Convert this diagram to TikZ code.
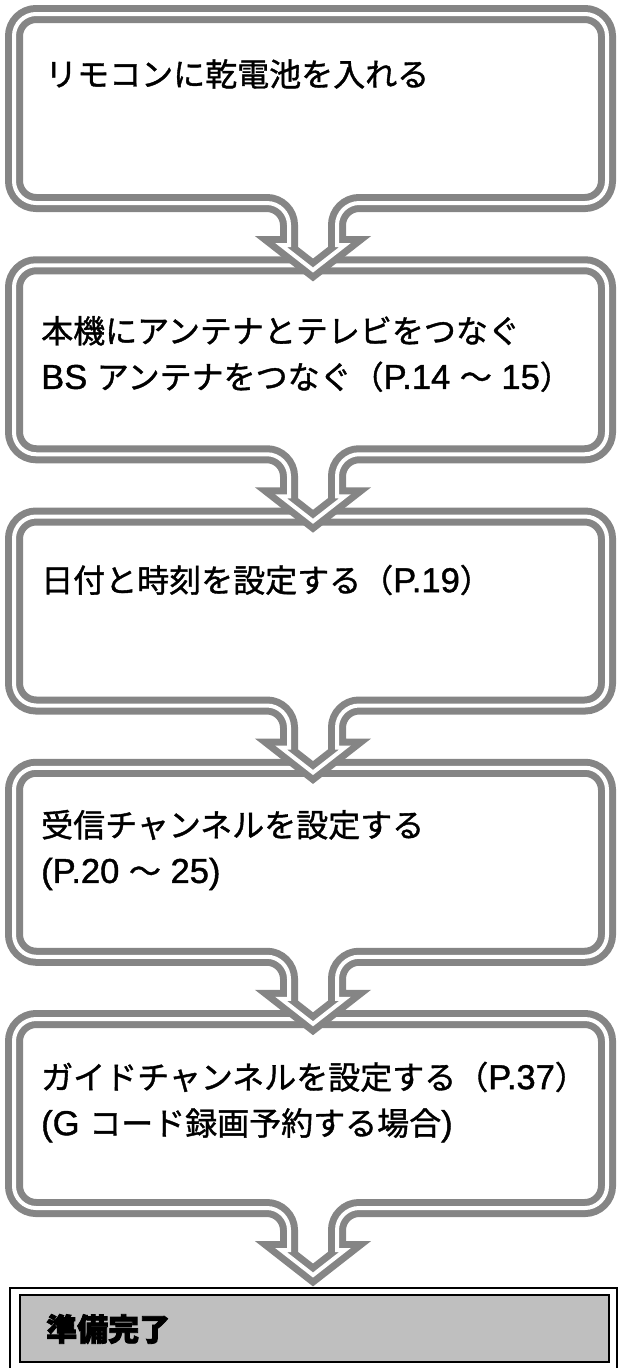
\documentclass[tikz,border=0pt]{standalone}
\usepackage{fontspec}
\setmainfont{Noto Sans CJK JP}[UprightFeatures={FakeBold=1.2}, BoldFeatures={FakeBold=2.5}]
\newfontfamily\lat{Liberation Sans}[Scale=1.08, FakeBold=1.2]
\tikzset{
  x=1pt, y=-1pt,
  boxline/.style={draw=black!48, line width=7pt, double=white, double distance=4pt, line join=miter, fill=white},
  steptext/.style={anchor=west, inner sep=0pt, font=\fontsize{32}{46}\selectfont, align=left, text=black},
  donebox/.style={draw=black, line width=1.5pt, fill=black!25},
  doneframe/.style={draw=black, line width=2.5pt},
}
% #1 = top, #2 = bottom of a step box (centre line of the double border)
\newcommand{\flowstep}[2]{%
  \draw[boxline] (313,#1) -- (585,#1) .. controls (597,#1) and (607,#1+10) .. (607,#1+22)
    -- (607,#2-22) .. controls (607,#2-10) and (597,#2) .. (585,#2)
    -- (359,#2) .. controls (347,#2) and (337,#2+10) .. (337,#2+22)
    -- (337,#2+42) -- (345,#2+42) -- (313,#2+67) -- (281,#2+42) -- (289,#2+42)
    -- (289,#2+22) .. controls (289,#2+10) and (279,#2) .. (267,#2)
    -- (36,#2) .. controls (24,#2) and (14,#2-10) .. (14,#2-22)
    -- (14,#1+22) .. controls (14,#1+10) and (24,#1) .. (36,#1) -- cycle;}
\begin{document}
\begin{tikzpicture}
\useasboundingbox (0,0) rectangle (620,1368);
% final box
\draw[doneframe] (10,1288) rectangle (617,1375);
\draw[donebox] (20,1295) rectangle (609,1362);
% step boxes, from bottom to top so that each arrow lies over the next box
\flowstep{1019}{1208}
\flowstep{767.75}{956.75}
\flowstep{516.5}{705.5}
\flowstep{265.25}{454.25}
\flowstep{14}{203}
% texts
\node[steptext] (t1) at (45,74) {リモコンに乾電池を入れる};
\node[steptext] (t2) at (41,354) {本機にアンテナとテレビをつなぐ\\{\lat BS }アンテナをつなぐ（{\lat P.14 }～{\lat\ 15}）};
\node[steptext] (t3) at (41,580) {日付と時刻を設定する（{\lat P.19}）};
\node[steptext] (t4) at (41,850) {受信チャンネルを設定する\\{\lat (P.20 }～{\lat\ 25)}};
\node[steptext] (t5) at (41,1102) {ガイドチャンネルを設定する（{\lat P.37}）\\{\lat (G }コード録画予約する場合{\lat )}};
\node[steptext, font=\fontsize{31}{36}\selectfont\bfseries] (t6) at (46,1329) {準備完了};
\end{tikzpicture}
\end{document}
